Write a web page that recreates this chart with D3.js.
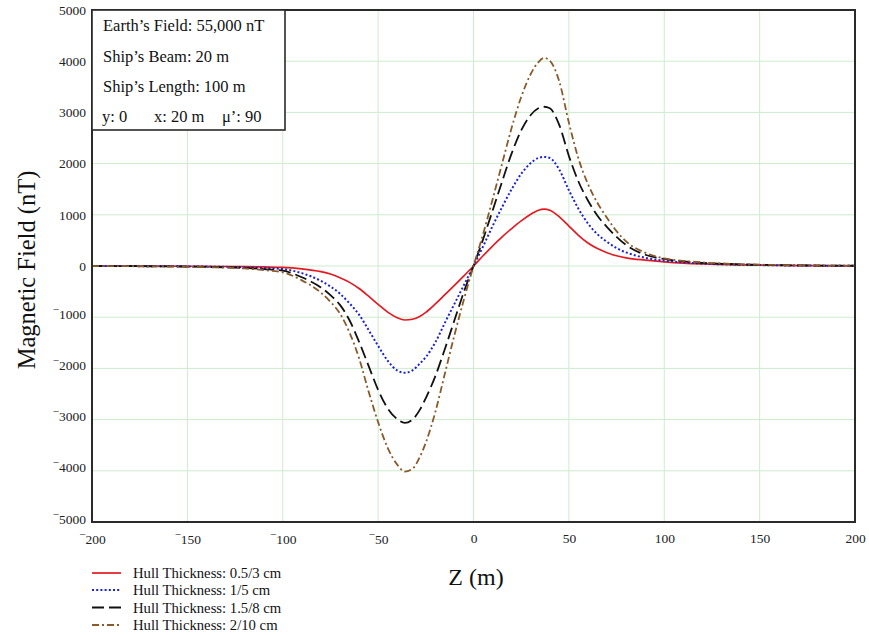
<!DOCTYPE html>
<html>
<head>
<meta charset="utf-8">
<script src="https://cdn.jsdelivr.net/npm/d3@7"></script>
<style>
  html, body { margin: 0; padding: 0; background: #fff; }
  svg { display: block; font-family: "Liberation Serif", "Times New Roman", serif; }
</style>
</head>
<body>
<svg id="chart" width="869" height="635"></svg>
<script>
// ---------- data ----------
const zValues = [-200,-180,-160,-140,-120,-110,-100,-90,-80,-75,-70,-65,-60,-55,-50,-45,-40,-36,-32,-28,-25,-20,-15,-10,-5,
  0,
  5,10,15,20,25,30,34,37,40,45,50,55,60,65,70,75,80,90,100,110,120,140,160,180,200];

const redValues = [0,-1,-3,-7,-14,-19,-26,-55,-110,-157,-230,-320,-440,-590,-750,-900,-1010,-1055,-1040,-980,-905,-740,-560,-380,-192,
  0,
  200,390,570,730,880,1010,1090,1110,1090,960,780,600,450,340,260,200,160,115,82,58,42,22,12,6,3];

const blueValues = [0,-2,-5,-12,-25,-40,-60,-140,-290,-400,-540,-730,-950,-1250,-1560,-1850,-2040,-2085,-2040,-1900,-1780,-1490,-1110,-740,-370,
  0,
  380,780,1150,1500,1800,2010,2110,2130,2110,1880,1480,1120,830,620,470,350,265,160,105,70,48,25,13,7,4];

const blackValues = [0,-3,-8,-18,-38,-60,-92,-220,-420,-570,-760,-1060,-1480,-1950,-2420,-2780,-2990,-3065,-3000,-2800,-2580,-2150,-1620,-1060,-500,
  0,
  520,1080,1650,2200,2650,2950,3080,3110,3080,2750,2150,1650,1280,980,760,570,410,220,137,90,62,32,17,9,5];

const brownValues = [0,-4,-10,-22,-48,-80,-124,-280,-520,-700,-930,-1300,-1800,-2450,-3050,-3550,-3880,-4015,-3960,-3720,-3450,-2850,-2100,-1350,-650,
  0,
  620,1300,2000,2700,3300,3750,3980,4065,4010,3600,2800,2100,1600,1230,940,680,480,260,150,100,70,36,19,10,6];

const seriesNames = ["Hull Thickness: 0.5/3 cm", "Hull Thickness: 1/5 cm", "Hull Thickness: 1.5/8 cm", "Hull Thickness: 2/10 cm"];
const xTicks = [-200,-150,-100,-50,0,50,100,150,200];
const yTicks = [-5000,-4000,-3000,-2000,-1000,0,1000,2000,3000,4000,5000];
const infoLines = ["Earth\u2019s Field: 55,000 nT", "Ship\u2019s Beam: 20 m", "Ship\u2019s Length: 100 m"];
const infoLast = ["y: 0", "x: 20 m", "\u03bc\u2019: 90"];
const xTitle = "Z (m)";
const yTitle = "Magnetic Field (nT)";

// ---------- styles ----------
const styles = [
  {color: "#e41a22", dash: null, width: 1.7},
  {color: "#1c22d0", dash: "2,2.2", width: 2},
  {color: "#111111", dash: "12,5", width: 1.8},
  {color: "#8a5a2a", dash: "7,3,2,3", width: 1.8}
];
const allValues = [redValues, blueValues, blackValues, brownValues];

const svg = d3.select("#chart");
const L = 92, R = 855, T = 10, B = 522;
const x = d3.scaleLinear().domain([-200, 200]).range([L, R]);
const y = d3.scaleLinear().domain([-5000, 5000]).range([B, T]);

// grid
svg.append("g").selectAll("line").data(xTicks).join("line")
  .attr("x1", d => x(d)).attr("x2", d => x(d)).attr("y1", T).attr("y2", B)
  .attr("stroke", "#cdeccd").attr("stroke-width", 1);
svg.append("g").selectAll("line").data(yTicks).join("line")
  .attr("x1", L).attr("x2", R).attr("y1", d => y(d)).attr("y2", d => y(d))
  .attr("stroke", "#cdeccd").attr("stroke-width", 1);

// number label helper with raised minus
function numLabel(sel) {
  sel.each(function(d) {
    const t = d3.select(this);
    t.text(null);
    if (d < 0) {
      t.append("tspan").attr("dy", "-0.45em").style("font-size", "11px").text("\u2212");
      t.append("tspan").attr("dy", "0.45em").text(Math.abs(d));
    } else {
      t.append("tspan").text(d);
    }
  });
}

// axes (labels only)
const xAxis = d3.axisBottom(x).tickValues(xTicks).tickSize(0).tickPadding(0);
const gx = svg.append("g").attr("transform", `translate(0,${B + 21})`).call(xAxis);
gx.select(".domain").remove();
gx.selectAll("text").attr("dy", 0).attr("y", 0)
  .style("font-family", "Liberation Serif, serif").style("font-size", "13.5px").attr("fill", "#222")
  .call(numLabel);

const yAxis = d3.axisLeft(y).tickValues(yTicks).tickSize(0).tickPadding(0);
const gy = svg.append("g").attr("transform", `translate(86,0)`).call(yAxis);
gy.select(".domain").remove();
gy.selectAll("text").attr("x", 0)
  .style("font-family", "Liberation Serif, serif").style("font-size", "13.5px").attr("fill", "#222")
  .call(numLabel);

// curves
const line = d3.line().x(d => x(d[0])).y(d => y(d[1])).curve(d3.curveMonotoneX);
svg.append("clipPath").attr("id", "plotclip").append("rect")
  .attr("x", L).attr("y", T).attr("width", R - L).attr("height", B - T);
allValues.forEach((vals, i) => {
  const pts = zValues.map((z, k) => [z, vals[k]]);
  svg.append("path").datum(pts)
    .attr("clip-path", "url(#plotclip)")
    .attr("d", line)
    .attr("fill", "none")
    .attr("stroke", styles[i].color)
    .attr("stroke-width", styles[i].width)
    .attr("stroke-dasharray", styles[i].dash);
});

// frame
svg.append("rect").attr("x", L).attr("y", T).attr("width", R - L).attr("height", B - T)
  .attr("fill", "none").attr("stroke", "#2a2a2a").attr("stroke-width", 2);

// info box
svg.append("rect").attr("x", L).attr("y", T).attr("width", 193).attr("height", 120)
  .attr("fill", "#fff").attr("stroke", "#2a2a2a").attr("stroke-width", 1.6);
const info = svg.append("g").style("font-size", "16.5px").attr("fill", "#111");
infoLines.forEach((s, i) => {
  info.append("text").attr("x", 103).attr("y", 31 + i * 30.5).text(s);
});
const lastX = [102, 154, 222];
infoLast.forEach((s, i) => {
  info.append("text").attr("x", lastX[i]).attr("y", 122).text(s);
});

// axis titles
svg.append("text").attr("x", 476).attr("y", 585).attr("text-anchor", "middle")
  .style("font-size", "24px").attr("fill", "#111").text(xTitle);
svg.append("text").attr("transform", "translate(35,270) rotate(-90)").attr("text-anchor", "middle")
  .style("font-size", "24.5px").attr("fill", "#111").text(yTitle);

// legend
const legY = [573, 590, 607.5, 625];
seriesNames.forEach((name, i) => {
  svg.append("line").attr("x1", 92).attr("x2", 121).attr("y1", legY[i]).attr("y2", legY[i])
    .attr("stroke", styles[i].color).attr("stroke-width", styles[i].width)
    .attr("stroke-dasharray", styles[i].dash);
  svg.append("text").attr("x", 133).attr("y", legY[i] + 5)
    .style("font-size", "14.7px").attr("fill", "#111").text(name);
});
</script>
</body>
</html>
